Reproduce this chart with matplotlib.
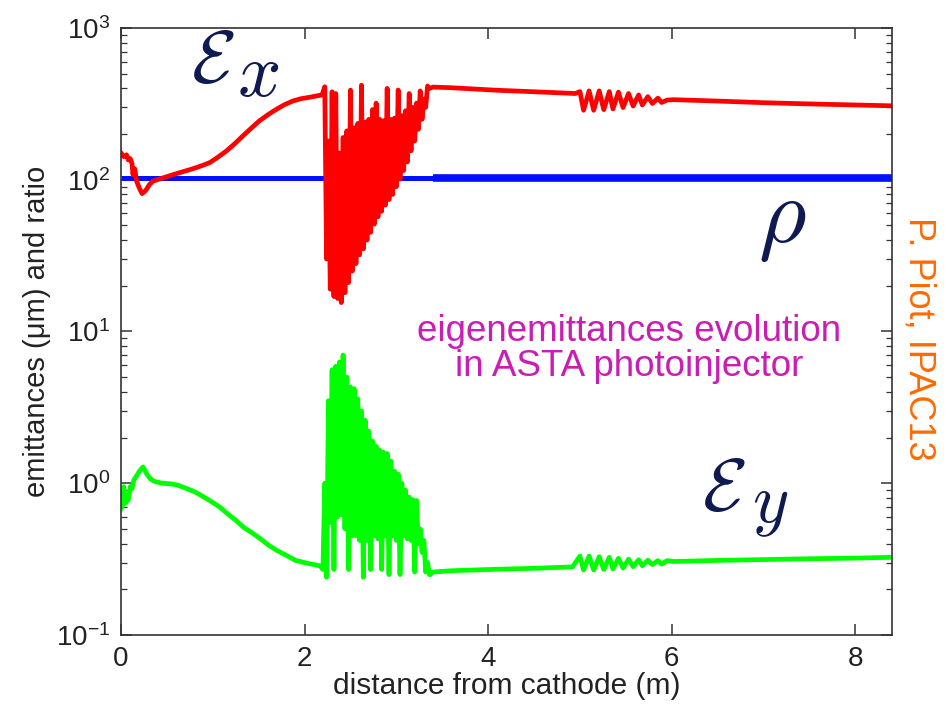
import matplotlib
matplotlib.use("Agg")
import matplotlib.pyplot as plt
from matplotlib.ticker import LogLocator, NullFormatter, FixedLocator
import numpy as np

plt.rcParams['font.family'] = ['Liberation Sans', 'DejaVu Sans']

# ---------------- data ----------------
# blue: ratio rho
rho_x_thin = [0.0, 3.4]
rho_y_thin = [102, 102]
rho_x_thick = [3.4, 8.4]
rho_y_thick = [102, 102]

# red: eps_x, smooth start
red_x_a = [0.00, 0.03, 0.06, 0.08, 0.10, 0.12, 0.13, 0.15, 0.17, 0.20, 0.23, 0.27, 0.31,
           0.35, 0.46, 0.61, 0.78, 0.90, 0.97, 1.05, 1.15, 1.24, 1.33, 1.42, 1.51, 1.60,
           1.70, 1.78, 1.87, 1.96, 2.06, 2.12, 2.19]
red_y_a = [150, 142, 146, 135, 138, 128, 108, 118, 98, 88, 81, 85, 93,
           98, 103, 110, 118, 125, 130, 140, 155, 173, 195, 219, 245, 268,
           293, 312, 330, 342, 350, 356, 362]

# oscillating section (shared sample positions)
osc_x = [2.22, 2.24, 2.26, 2.28, 2.30, 2.32, 2.34, 2.36, 2.38, 2.40, 2.42, 2.44, 2.46, 2.48,
         2.50, 2.52, 2.54, 2.56, 2.58, 2.60, 2.62, 2.64, 2.66, 2.68, 2.70, 2.72, 2.74, 2.76,
         2.78, 2.80, 2.82, 2.84, 2.86, 2.88, 2.90, 2.92, 2.94, 2.96, 2.98, 3.00, 3.02, 3.04,
         3.06, 3.08, 3.10, 3.12, 3.14, 3.16, 3.18, 3.20, 3.22, 3.24, 3.26, 3.28, 3.30, 3.32,
         3.34, 3.36]
red_osc_hi = [410, 180, 380, 370, 150, 190, 210, 390, 220, 235, 420, 240, 250, 290, 320,
              250, 245, 400, 250, 255, 390, 265, 285, 370, 300, 320, 385, 340, 415]
red_osc_lo = [30, 19, 17, 16.5, 15.5, 18, 21, 25, 28, 32, 35, 40, 45, 51, 57,
              62, 68, 74, 80, 90, 101, 115, 131, 155, 180, 215, 250, 300, 400]

red_x_c = [3.40, 3.60, 4.09, 4.50, 4.82, 4.95]
red_y_c = [408, 404, 389, 380, 373, 370]

wig_x = [5.00, 5.04, 5.10, 5.15, 5.21, 5.26, 5.32, 5.36, 5.42, 5.47, 5.53, 5.58, 5.64,
         5.68, 5.74, 5.79, 5.85, 5.89, 5.95, 6.02]
red_wig = [381, 287, 385, 287, 385, 290, 381, 293, 378, 299, 370, 306, 362,
           311, 353, 318, 345, 323, 335, 337]

red_x_d = [6.5, 7.0, 7.5, 8.0, 8.4]
red_y_d = [330, 322, 316, 311, 307]

# green: eps_y
green_x_a = [0.00, 0.02, 0.03, 0.05, 0.08, 0.10, 0.12, 0.14, 0.17, 0.20, 0.24, 0.28, 0.32,
             0.36, 0.45, 0.55, 0.62, 0.70, 0.80, 0.89, 0.98, 1.07, 1.16, 1.25, 1.34, 1.43,
             1.52, 1.61, 1.70, 1.80, 1.90, 2.00, 2.05, 2.17, 2.20]
green_y_a = [0.68, 0.72, 0.95, 0.74, 0.78, 0.95, 0.92, 1.05, 1.12, 1.20, 1.28, 1.15, 1.07,
             1.03, 1.00, 0.99, 0.97, 0.93, 0.88, 0.82, 0.76, 0.70, 0.63, 0.57, 0.51, 0.47,
             0.43, 0.39, 0.36, 0.335, 0.31, 0.30, 0.295, 0.285, 0.27]
green_osc_hi = [1.0, 3.5, 5.6, 5.9, 6.3, 7.0, 5.0, 4.3, 4.2, 3.6, 3.0, 2.6, 2.2, 1.9, 1.75,
                1.65, 1.6, 1.57, 1.4, 1.2, 1.15, 1.0, 0.9, 0.81, 0.78, 0.77, 0.5, 0.42, 0.30]
green_osc_lo = [0.24, 0.55, 0.27, 0.60, 0.62, 0.50, 0.27, 0.45, 0.45, 0.42, 0.24, 0.42, 0.27,
                0.45, 0.43, 0.27, 0.45, 0.25, 0.45, 0.42, 0.25, 0.45, 0.43, 0.42, 0.26, 0.40,
                0.35, 0.26, 0.25]

green_x_c = [3.37, 3.40, 3.60, 4.00, 4.50, 4.92]
green_y_c = [0.25, 0.26, 0.265, 0.27, 0.275, 0.281]
green_wig = [0.331, 0.268, 0.331, 0.268, 0.328, 0.270, 0.325, 0.272, 0.320, 0.276, 0.316,
             0.282, 0.313, 0.286, 0.311, 0.291, 0.309, 0.293, 0.309, 0.305]
green_x_d = [6.5, 7.0, 7.5, 8.0, 8.4]
green_y_d = [0.310, 0.314, 0.318, 0.321, 0.325]

x_ticks = [0, 2, 4, 6, 8]


def interleave(hi, lo):
    out = []
    for h, l in zip(hi, lo):
        out.extend([h, l])
    return out


red_x = red_x_a + osc_x + red_x_c + wig_x + red_x_d
red_y = red_y_a + interleave(red_osc_hi, red_osc_lo) + red_y_c + red_wig + red_y_d
green_x = green_x_a + osc_x + green_x_c + wig_x + green_x_d
green_y = green_y_a + interleave(green_osc_hi, green_osc_lo) + green_y_c + green_wig + green_y_d

# ---------------- figure ----------------
fig = plt.figure(figsize=(9.49, 7.09), dpi=100)
ax = fig.add_axes([0.1275, 0.1044, 0.8124, 0.8561])

ax.plot(rho_x_thin, rho_y_thin, color='#0010ff', lw=3.6, solid_capstyle='butt')
ax.plot(rho_x_thick, rho_y_thick, color='#0010ff', lw=5.5, solid_capstyle='butt')
ax.plot(red_x, red_y, color='#ff0000', lw=3.4, solid_joinstyle='round')
ax.plot(green_x, green_y, color='#00ff00', lw=3.4, solid_joinstyle='round')

ax.set_yscale('log')
ax.set_ylim(0.1, 1000)
ax.set_xlim(0, 8.4)
ax.xaxis.set_major_locator(FixedLocator(x_ticks))
ax.yaxis.set_major_locator(LogLocator(base=10, numticks=10))
ax.yaxis.set_minor_locator(LogLocator(base=10, subs=np.arange(2, 10), numticks=20))
ax.yaxis.set_minor_formatter(NullFormatter())

for s in ax.spines.values():
    s.set_linewidth(1.2)
    s.set_color('#333333')
ax.tick_params(which='both', direction='in', top=True, right=True, color='#333333',
               labelsize=20, labelcolor='#222222')
ax.tick_params(which='major', length=8, width=1.1, pad=8)
ax.tick_params(which='minor', length=4, width=0.9)

ax.set_xlabel('distance from cathode (m)', fontsize=21.5, color='#222222', labelpad=0)
ax.set_ylabel('emittances (μm) and ratio', fontsize=21, color='#222222', labelpad=3)

navy = '#0f1a50'
fig.text(191 / 949, 1 - 82 / 709, r'$\mathcal{E}$', fontsize=53, color=navy,
         math_fontfamily='cm', ha='left', va='baseline')
fig.text(237 / 949, 1 - 96 / 709, r'$x$', fontsize=55, color=navy,
         math_fontfamily='cm', ha='left', va='baseline')
fig.text(702 / 949, 1 - 510 / 709, r'$\mathcal{E}$', fontsize=53, color=navy,
         math_fontfamily='cm', ha='left', va='baseline')
fig.text(752 / 949, 1 - 522 / 709, r'$y$', fontsize=50, color=navy,
         math_fontfamily='cm', ha='left', va='baseline')
fig.text(758 / 949, 1 - 242 / 709, r'$\rho$', fontsize=66, color=navy,
         math_fontfamily='cm', ha='left', va='baseline')

fig.text(629 / 949, 1 - 349 / 709, 'eigenemittances evolution\nin ASTA photoinjector',
         fontsize=26.5, color='#c81eb4', ha='center', va='center', linespacing=1.0)
fig.text(919 / 949, 1 - 339 / 709, 'P. Piot, IPAC13', fontsize=26, color='#ff6a00',
         rotation=-90, ha='center', va='center')

fig.savefig('out.png', dpi=100)
